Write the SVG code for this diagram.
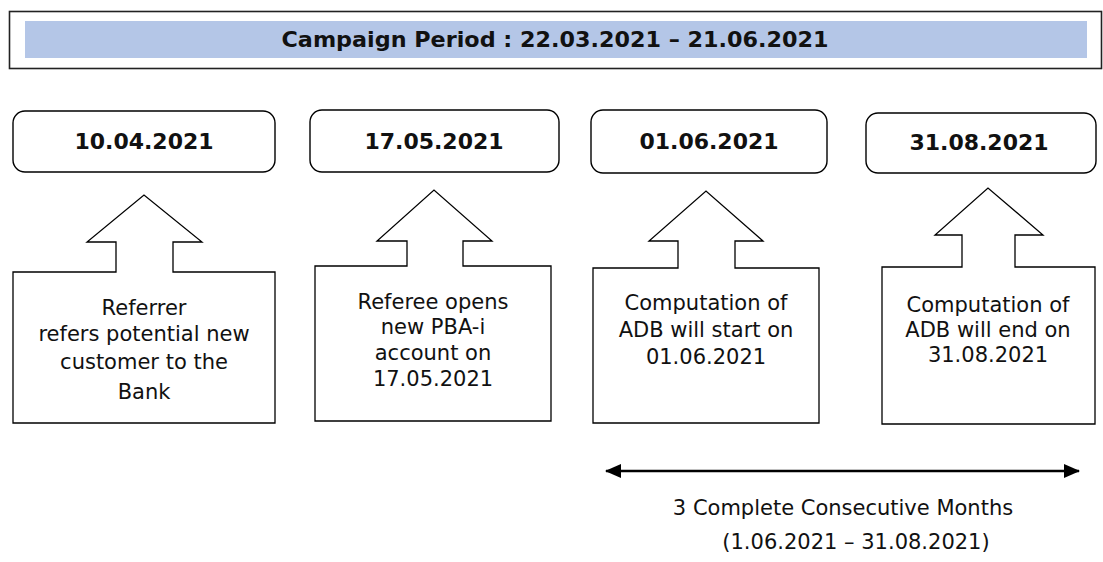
<svg xmlns="http://www.w3.org/2000/svg" width="1103" height="562" viewBox="0 0 1103 562">
<defs>
<style>
.date{fill:#fff;stroke:#000;stroke-width:1.4}
.call{fill:#fff;stroke:#000;stroke-width:1.3;stroke-linejoin:miter}
.dt{font-family:"DejaVu Sans",Verdana,sans-serif;font-weight:bold;font-size:22px;fill:#111;text-anchor:middle}
.bt{font-family:"DejaVu Sans",Verdana,sans-serif;font-size:21px;fill:#111;text-anchor:middle}
</style>
<marker id="ah" viewBox="0 0 16 14" refX="15" refY="7" markerWidth="16" markerHeight="14" markerUnits="userSpaceOnUse" orient="auto-start-reverse">
<path d="M0,0 L16,7 L0,14 Z" fill="#000"/>
</marker>
</defs>
<rect width="1103" height="562" fill="#fff"/>
<g id="banner">
<rect x="9.5" y="11.5" width="1092" height="57" fill="#fff" stroke="#222" stroke-width="1.6"/>
<rect x="25" y="21" width="1062" height="37" fill="#b4c6e7"/>
<text x="555" y="47" font-family="DejaVu Sans,Verdana,sans-serif" font-weight="bold" font-size="22" fill="#111" text-anchor="middle" textLength="547" lengthAdjust="spacingAndGlyphs">Campaign Period : 22.03.2021 – 21.06.2021</text>
</g>
<g id="node1">
<rect class="date" x="13" y="111" width="262" height="61" rx="12"/>
<text class="dt" x="144" y="149">10.04.2021</text>
<path class="call" d="M13,272 H116 V242 H87 L144,195 L202,242 H173 V272 H275 V423 H13 Z"/>
<text class="bt" x="144" y="315">Referrer</text>
<text class="bt" x="144" y="341">refers potential new</text>
<text class="bt" x="144" y="369">customer to the</text>
<text class="bt" x="144" y="399">Bank</text>
</g>
<g id="node2">
<rect class="date" x="310" y="110" width="249" height="62" rx="12"/>
<text class="dt" x="434" y="149">17.05.2021</text>
<path class="call" d="M315,266 H407 V241 H377 L434,190 L492,241 H463 V266 H551 V421 H315 Z"/>
<text class="bt" x="433" y="309">Referee opens</text>
<text class="bt" x="433" y="334">new PBA-i</text>
<text class="bt" x="433" y="360">account on</text>
<text class="bt" x="433" y="386">17.05.2021</text>
</g>
<g id="node3">
<rect class="date" x="591" y="110" width="236" height="63" rx="12"/>
<text class="dt" x="709" y="149">01.06.2021</text>
<path class="call" d="M593,268 H678 V241 H649 L706,191 L763,241 H735 V268 H819 V423 H593 Z"/>
<text class="bt" x="706" y="310">Computation of</text>
<text class="bt" x="706" y="337">ADB will start on</text>
<text class="bt" x="706" y="364">01.06.2021</text>
</g>
<g id="node4">
<rect class="date" x="866" y="113" width="230" height="60" rx="12"/>
<text class="dt" x="979" y="150">31.08.2021</text>
<path class="call" d="M882,267 H962 V235 H935 L988,188 L1043,235 H1015 V267 H1095 V424 H882 Z"/>
<text class="bt" x="988" y="312">Computation of</text>
<text class="bt" x="988" y="337">ADB will end on</text>
<text class="bt" x="988" y="362">31.08.2021</text>
</g>
<g id="connectors">
<line x1="606" y1="471" x2="1079" y2="471" stroke="#000" stroke-width="2.5" marker-start="url(#ah)" marker-end="url(#ah)"/>
</g>
<g id="span-label">
<text class="bt" x="843" y="515">3 Complete Consecutive Months</text>
<text class="bt" x="856" y="549">(1.06.2021 – 31.08.2021)</text>
</g>
</svg>
